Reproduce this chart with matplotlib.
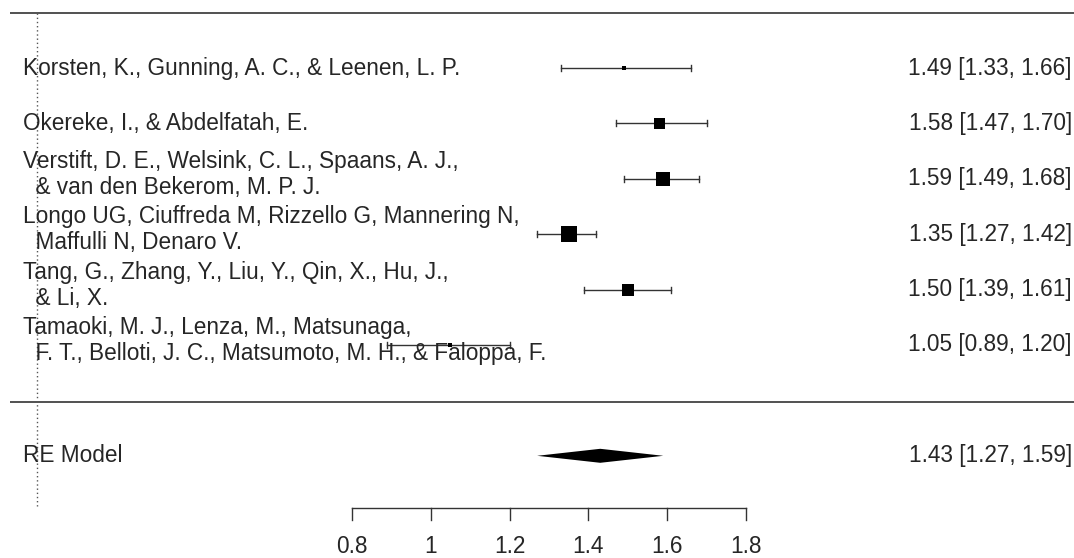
import matplotlib
matplotlib.use("Agg")
import matplotlib.pyplot as plt
import numpy as np

plt.rcParams['font.family'] = ['Liberation Sans', 'DejaVu Sans']

studies = [
    "Korsten, K., Gunning, A. C., & Leenen, L. P.",
    "Okereke, I., & Abdelfatah, E.",
    "Verstift, D. E., Welsink, C. L., Spaans, A. J.,\n  & van den Bekerom, M. P. J.",
    "Longo UG, Ciuffreda M, Rizzello G, Mannering N,\n  Maffulli N, Denaro V.",
    "Tang, G., Zhang, Y., Liu, Y., Qin, X., Hu, J.,\n  & Li, X.",
    "Tamaoki, M. J., Lenza, M., Matsunaga,\n  F. T., Belloti, J. C., Matsumoto, M. H., & Faloppa, F.",
]
est = [1.49, 1.58, 1.59, 1.35, 1.50, 1.05]
lo = [1.33, 1.47, 1.49, 1.27, 1.39, 0.89]
hi = [1.66, 1.70, 1.68, 1.42, 1.61, 1.20]
# square side (px) reflects study weight
sq_px = [4, 11, 14, 16, 12, 5]

re_label = "RE Model"
re_est, re_lo, re_hi = 1.43, 1.27, 1.59

ticks = [0.8, 1.0, 1.2, 1.4, 1.6, 1.8]
tick_labels = ["0.8", "1", "1.2", "1.4", "1.6", "1.8"]

W, H = 1074, 558
fig = plt.figure(figsize=(W / 100, H / 100), dpi=100)
ax = fig.add_axes([0, 0, 1, 1])
ax.set_axis_off()

# x: data units (px per unit = 394, 0.8 at px 352)
ppu = 394.0
xl = 0.8 - 352 / ppu
xr = 0.8 + (W - 352) / ppu
# y: row units (55.4 px per row, row 8 at px 68)
rpx = 55.4
yt = 8 + 68 / rpx
yb = 8 - (H - 68) / rpx
ax.set_xlim(xl, xr)
ax.set_ylim(yb, yt)

def px2x(p):
    return xl + p / ppu

def py2y(p):
    return 8 - (p - 68) / rpx

fs = 16.3
txtcol = '#262626'
lcol = '#333333'

n = len(studies)
rows = [8 - i for i in range(n)]

# horizontal lines
ax.plot([px2x(10), xr], [py2y(13), py2y(13)], color=lcol, lw=1.2, solid_capstyle='butt')
ax.plot([px2x(10), xr], [py2y(402), py2y(402)], color=lcol, lw=1.2, solid_capstyle='butt')
# reference line at 0
ax.plot([0, 0], [py2y(13), py2y(506)], color='#555555', lw=1, ls=(0, (1, 2)))

tick_h = 3 / rpx
for i in range(n):
    y = rows[i]
    ax.plot([lo[i], hi[i]], [y, y], color=lcol, lw=1)
    ax.plot([lo[i], lo[i]], [y - tick_h, y + tick_h], color=lcol, lw=1)
    ax.plot([hi[i], hi[i]], [y - tick_h, y + tick_h], color=lcol, lw=1)
    ax.plot([est[i]], [y], marker='s', color='black', ms=sq_px[i] * 0.72, mew=0)
    off = 0.08 if "\n" in studies[i] else 0
    ax.text(px2x(23), y + off, studies[i], ha='left', va='center', fontsize=fs,
            color=txtcol, linespacing=1.15)
    ax.text(px2x(1072), y, f"{est[i]:.2f} [{lo[i]:.2f}, {hi[i]:.2f}]", ha='right',
            va='center', fontsize=fs, color=txtcol)

# RE model diamond
yd = 1
hh = 7 / rpx
ax.fill([re_lo, re_est, re_hi, re_est], [yd, yd + hh, yd, yd - hh], color='black', lw=0)
ax.text(px2x(23), yd, re_label, ha='left', va='center', fontsize=fs, color=txtcol)
ax.text(px2x(1072), yd, f"{re_est:.2f} [{re_lo:.2f}, {re_hi:.2f}]", ha='right',
        va='center', fontsize=fs, color=txtcol)

# x axis
ya = py2y(508)
ax.plot([ticks[0], ticks[-1]], [ya, ya], color=lcol, lw=1)
tl = 12 / rpx
for t, lab in zip(ticks, tick_labels):
    ax.plot([t, t], [ya, ya - tl], color=lcol, lw=1)
    ax.text(t, py2y(553), lab, ha='center', va='baseline', fontsize=fs, color=txtcol)

fig.savefig("out.png", dpi=100)
